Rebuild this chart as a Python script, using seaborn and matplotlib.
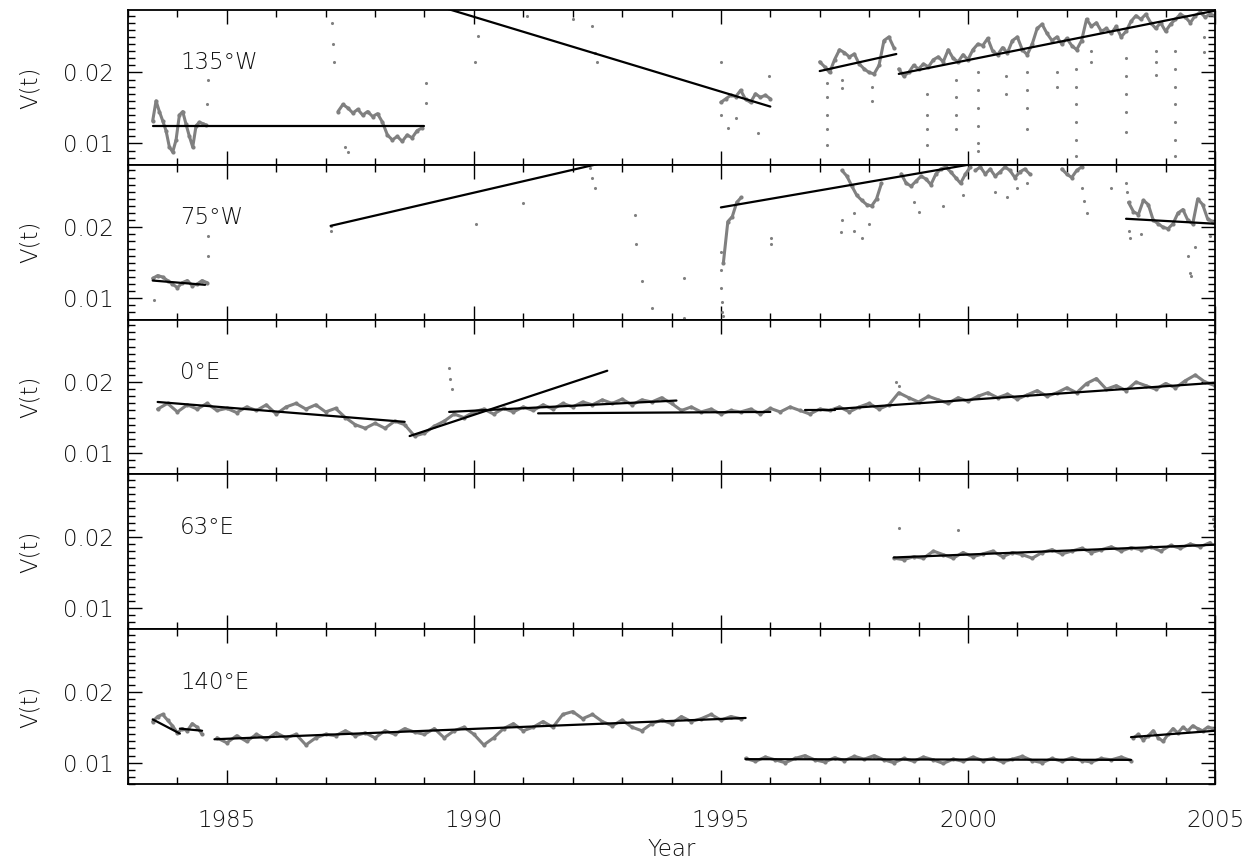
import numpy as np
import pandas as pd
import matplotlib
matplotlib.use("Agg")
import matplotlib.pyplot as plt
import seaborn as sns
from matplotlib.ticker import MultipleLocator, FormatStrFormatter

sns.set_theme(style="white")
plt.rcParams["font.family"] = ["DejaVu Sans"]
plt.rcParams["font.weight"] = "light"

GRAY = "#808080"
XMIN, XMAX = 1983.0, 2005.0
YMIN, YMAX = 0.0070, 0.0288
LABELS = ["135°W", "75°W", "0°E", "63°E", "140°E"]

# ---------------- 135°W ----------------
W135_A = [0.0132, 0.0160, 0.0145, 0.0132, 0.0118, 0.0095, 0.0088, 0.0105, 0.0140,
          0.0145, 0.0127, 0.0110, 0.0095, 0.0125, 0.0130, 0.0128, 0.0126]
W135_B = [0.0145, 0.0155, 0.0150, 0.0143, 0.0148, 0.0140, 0.0145, 0.0138, 0.0142,
          0.0130, 0.0112, 0.0105, 0.0110, 0.0103, 0.0112, 0.0108, 0.0118, 0.0122]
W135_C = [0.0158, 0.0163, 0.0168, 0.0166, 0.0175, 0.0162, 0.0158, 0.0170, 0.0165,
          0.0168, 0.0163]
W135_D = [0.0215, 0.0208, 0.0200, 0.0218, 0.0232, 0.0228, 0.0222, 0.0226, 0.0212,
          0.0205, 0.0200, 0.0198, 0.0210, 0.0245, 0.0250, 0.0235]
W135_E = [0.0205, 0.0195, 0.0200, 0.0210,
          0.0205, 0.0212, 0.0208, 0.0218, 0.0222, 0.0215, 0.0232, 0.0220, 0.0215, 0.0225,
          0.0218, 0.0232, 0.0240, 0.0238, 0.0248, 0.0230, 0.0225, 0.0235, 0.0228, 0.0245,
          0.0250, 0.0232, 0.0225, 0.0240, 0.0262, 0.0268, 0.0255, 0.0245, 0.0250, 0.0240,
          0.0248, 0.0238, 0.0232, 0.0245, 0.0275, 0.0265, 0.0270, 0.0258, 0.0262, 0.0255,
          0.0265, 0.0250, 0.0258, 0.0272, 0.0280, 0.0275, 0.0282, 0.0270, 0.0262, 0.0270,
          0.0258, 0.0268, 0.0275, 0.0282, 0.0278, 0.0270, 0.0280, 0.0285, 0.0278, 0.0282,
          0.0280]
W135_SEGS = [(1983.50, 0.0675, W135_A), (1987.25, 0.1, W135_B), (1995.0, 0.1, W135_C),
             (1997.0, 0.1, W135_D), (1998.6, 0.1, W135_E)]
W135_OUT_T = [1984.60, 1984.62, 1987.12, 1987.14, 1987.16, 1987.40, 1987.45, 1989.03, 1989.03,
              1990.03, 1990.08, 1991.07, 1992.00, 1992.40, 1992.45, 1992.50, 1995.00, 1995.00,
              1995.15, 1995.30, 1995.75, 1995.98,
              1997.15, 1997.15, 1997.15, 1997.15, 1997.15, 1997.46, 1997.46, 1998.05, 1998.05,
              1999.17, 1999.17, 1999.17, 1999.17, 1999.76, 1999.76, 1999.76, 1999.76,
              2000.20, 2000.20, 2000.20, 2000.20, 2000.20, 2000.20, 2000.78, 2000.78,
              2001.19, 2001.19, 2001.19, 2001.19, 2001.81, 2001.81,
              2002.19, 2002.19, 2002.19, 2002.19, 2002.19, 2002.19, 2002.50, 2002.50,
              2003.20, 2003.20, 2003.20, 2003.20, 2003.20, 2003.80, 2003.80, 2003.80,
              2004.19, 2004.19, 2004.19, 2004.19, 2004.19, 2004.19, 2004.19, 2004.78, 2004.78]
W135_OUT_V = [0.0155, 0.0190, 0.0270, 0.0240, 0.0215, 0.0095, 0.0088, 0.0185, 0.0157,
              0.0215, 0.0251, 0.0279, 0.0276, 0.0265, 0.0228, 0.0215, 0.0215, 0.0140,
              0.0122, 0.0136, 0.0115, 0.0195,
              0.0185, 0.0165, 0.0140, 0.0120, 0.0098, 0.0190, 0.0178, 0.0180, 0.0160,
              0.0170, 0.0140, 0.0120, 0.0098, 0.0190, 0.0165, 0.0140, 0.0120,
              0.0200, 0.0175, 0.0150, 0.0125, 0.0100, 0.0089, 0.0195, 0.0170,
              0.0200, 0.0175, 0.0150, 0.0120, 0.0200, 0.0180,
              0.0205, 0.0180, 0.0155, 0.0130, 0.0105, 0.0082, 0.0230, 0.0215,
              0.0220, 0.0195, 0.0170, 0.0145, 0.0116, 0.0230, 0.0215, 0.0197,
              0.0230, 0.0205, 0.0180, 0.0155, 0.0130, 0.0105, 0.0082, 0.0250, 0.0229]
W135_FITS = [(1983.5, 0.0125, 1989.0, 0.0125), (1989.45, 0.0290, 1996.0, 0.0152),
             (1997.0, 0.0202, 1998.55, 0.0226), (1998.6, 0.0198, 2005.0, 0.0287)]

# ---------------- 75°W ----------------
W75_A = [0.0128, 0.0132, 0.0130, 0.0125, 0.0120, 0.0115, 0.0122, 0.0125, 0.0118, 0.0120,
         0.0125, 0.0122]
W75_B = [0.0150, 0.0208, 0.0215, 0.0235, 0.0242]
W75_C = [0.0280, 0.0272, 0.0258, 0.0245, 0.0238, 0.0232, 0.0230, 0.0240, 0.0262]
W75_D = [0.0275, 0.0262, 0.0258, 0.0265, 0.0272, 0.0268, 0.0260, 0.0275, 0.0282, 0.0285,
         0.0278, 0.0270, 0.0262, 0.0275, 0.0285]
W75_E = [0.0280, 0.0285, 0.0275, 0.0282, 0.0272, 0.0278, 0.0285, 0.0280, 0.0270, 0.0278,
         0.0282, 0.0275]
W75_F = [0.0282, 0.0275, 0.0270, 0.0280, 0.0285]
W75_G = [0.0235, 0.0222, 0.0218, 0.0238, 0.0232, 0.0210, 0.0205, 0.0200, 0.0198, 0.0205,
         0.0220, 0.0225, 0.0210, 0.0205, 0.0240, 0.0232, 0.0212, 0.0208]
W75_SEGS = [(1983.5, 0.1, W75_A), (1995.05, 0.09, W75_B), (1997.45, 0.1, W75_C),
            (1998.65, 0.1, W75_D), (2000.15, 0.1, W75_E), (2001.9, 0.1, W75_F),
            (2003.25, 0.1, W75_G)]
W75_OUT_T = [1983.52, 1984.62, 1984.62, 1987.10, 1987.10, 1990.05, 1991.00, 1992.35, 1992.40,
             1992.45, 1993.26, 1993.28, 1993.40, 1993.60, 1994.25, 1994.25,
             1995.00, 1995.00, 1995.01, 1995.02, 1995.03, 1995.05, 1996.01, 1996.01,
             1997.43, 1997.45, 1997.70, 1997.70, 1997.85, 1998.00, 1998.90, 1999.00, 1999.50,
             1999.90, 2000.55, 2000.80, 2001.00, 2001.20, 2002.30, 2002.35, 2002.40, 2002.90,
             2003.20, 2003.22, 2003.25, 2003.28, 2003.50, 2004.45, 2004.50, 2004.52, 2004.60,
             2004.90]
W75_OUT_V = [0.0098, 0.0188, 0.0160, 0.0202, 0.0195, 0.0204, 0.0234, 0.0284, 0.0270,
             0.0255, 0.0218, 0.0176, 0.0124, 0.0087, 0.0128, 0.0072,
             0.0165, 0.0140, 0.0115, 0.0095, 0.0080, 0.0075, 0.0185, 0.0176,
             0.0194, 0.0210, 0.0220, 0.0195, 0.0185, 0.0205, 0.0235, 0.0222, 0.0230,
             0.0245, 0.0250, 0.0243, 0.0255, 0.0262, 0.0255, 0.0237, 0.0220, 0.0255,
             0.0262, 0.0250, 0.0195, 0.0185, 0.0190, 0.0160, 0.0136, 0.0132, 0.0172,
             0.0188]
W75_FITS = [(1983.5, 0.0125, 1984.56, 0.0119), (1987.1, 0.0202, 1992.5, 0.0289),
            (1995.0, 0.0228, 2000.0, 0.0288), (2003.2, 0.0212, 2005.0, 0.0205)]

# ---------------- 0°E ----------------
E0_A = [0.0162, 0.0170,
        0.0158, 0.0168, 0.0162, 0.0170, 0.0160,
        0.0163, 0.0157, 0.0165, 0.0160, 0.0168,
        0.0155, 0.0165, 0.0170, 0.0162, 0.0168,
        0.0158, 0.0163, 0.0150, 0.0140, 0.0135,
        0.0142, 0.0135, 0.0145, 0.0140, 0.0124,
        0.0128, 0.0138, 0.0145, 0.0155, 0.0150,
        0.0158, 0.0162, 0.0155, 0.0163, 0.0158,
        0.0165, 0.0160, 0.0168, 0.0162, 0.0170,
        0.0165, 0.0172, 0.0168, 0.0175, 0.0170,
        0.0176, 0.0168, 0.0175, 0.0172, 0.0178,
        0.0170, 0.0160, 0.0165, 0.0158, 0.0162,
        0.0155, 0.0160, 0.0158, 0.0162, 0.0155,
        0.0163, 0.0158, 0.0165, 0.0160, 0.0155,
        0.0162, 0.0160, 0.0165, 0.0158, 0.0165,
        0.0170, 0.0162, 0.0168, 0.0185, 0.0178,
        0.0172, 0.0180, 0.0175, 0.0170, 0.0178,
        0.0173, 0.0180, 0.0185, 0.0178, 0.0183,
        0.0176, 0.0182, 0.0188, 0.0180, 0.0185,
        0.0192, 0.0185, 0.0198, 0.0205, 0.0190,
        0.0195, 0.0188, 0.0200, 0.0195, 0.0190,
        0.0198, 0.0192, 0.0202, 0.0210, 0.0200,
        0.0195]
E0_SEGS = [(1983.6, 0.2, E0_A)]
E0_OUT_T = [1989.50, 1989.52, 1989.55, 1998.55, 1998.60]
E0_OUT_V = [0.0220, 0.0205, 0.0190, 0.0200, 0.0195]
E0_FITS = [(1983.6, 0.0172, 1988.6, 0.0144), (1988.7, 0.0124, 1992.7, 0.0216),
           (1989.5, 0.0158, 1994.1, 0.0174), (1991.3, 0.0156, 1996.0, 0.0158),
           (1996.7, 0.0161, 1997.3, 0.0161), (1997.3, 0.0162, 2005.0, 0.0199)]

# ---------------- 63°E ----------------
E63_A = [0.0170, 0.0168, 0.0172, 0.0170, 0.0180, 0.0175, 0.0170, 0.0178, 0.0172, 0.0176,
         0.0180, 0.0172, 0.0178, 0.0175, 0.0170, 0.0178, 0.0182, 0.0176, 0.0180, 0.0184,
         0.0178, 0.0182, 0.0186, 0.0180, 0.0185, 0.0182, 0.0186, 0.0180, 0.0188, 0.0184,
         0.0190, 0.0186, 0.0192]
E63_SEGS = [(1998.5, 0.2, E63_A)]
E63_OUT_T = [1998.60, 1999.80, 2004.95, 2004.97]
E63_OUT_V = [0.0213, 0.0210, 0.0225, 0.0215]
E63_FITS = [(1998.5, 0.0171, 2005.0, 0.0189)]

# ---------------- 140°E ----------------
E140_A = [0.0158, 0.0165, 0.0168, 0.0160, 0.0152, 0.0142, 0.0148, 0.0145, 0.0155, 0.0150,
          0.0140]
E140_B = [0.0135, 0.0128, 0.0138, 0.0130, 0.0140, 0.0133, 0.0142, 0.0135, 0.0140, 0.0125,
          0.0135, 0.0140, 0.0138, 0.0145, 0.0138, 0.0142, 0.0135, 0.0145, 0.0140, 0.0148,
          0.0143, 0.0140, 0.0148, 0.0135, 0.0145, 0.0150, 0.0140, 0.0125, 0.0135, 0.0148,
          0.0155, 0.0145, 0.0150, 0.0158, 0.0150, 0.0168, 0.0172, 0.0162, 0.0168, 0.0158,
          0.0152, 0.0160, 0.0150, 0.0145, 0.0155, 0.0160, 0.0155, 0.0165, 0.0158, 0.0162,
          0.0168, 0.0160, 0.0165, 0.0162]
E140_C = [0.0106, 0.0102, 0.0108, 0.0104, 0.0100, 0.0106, 0.0110, 0.0104, 0.0101, 0.0107,
          0.0103, 0.0109, 0.0105, 0.0110, 0.0104, 0.0100, 0.0106, 0.0102, 0.0108, 0.0104,
          0.0099, 0.0105, 0.0102, 0.0108, 0.0103, 0.0106, 0.0101, 0.0105, 0.0109, 0.0103,
          0.0100, 0.0106, 0.0102, 0.0107, 0.0103, 0.0101, 0.0106, 0.0104, 0.0108, 0.0103]
E140_D = [0.0135, 0.0140, 0.0132, 0.0138, 0.0145, 0.0135, 0.0130, 0.0140, 0.0148, 0.0142,
          0.0150, 0.0145, 0.0152, 0.0148, 0.0145, 0.0150, 0.0148]
E140_SEGS = [(1983.5, 0.1, E140_A), (1984.8, 0.2, E140_B), (1995.5, 0.2, E140_C),
             (2003.35, 0.1, E140_D)]
E140_OUT_T = []
E140_OUT_V = []
E140_FITS = [(1983.5, 0.0161, 1984.05, 0.0141), (1984.05, 0.0148, 1984.5, 0.0145),
             (1984.75, 0.0133, 1995.5, 0.0163), (1995.5, 0.0105, 2003.3, 0.0104),
             (2003.3, 0.0136, 2005.0, 0.0145)]

PANELS = [(W135_SEGS, W135_OUT_T, W135_OUT_V, W135_FITS),
          (W75_SEGS, W75_OUT_T, W75_OUT_V, W75_FITS),
          (E0_SEGS, E0_OUT_T, E0_OUT_V, E0_FITS),
          (E63_SEGS, E63_OUT_T, E63_OUT_V, E63_FITS),
          (E140_SEGS, E140_OUT_T, E140_OUT_V, E140_FITS)]


def band_frame(segs):
    rows = []
    for k, (t0, dt, vals) in enumerate(segs):
        for i, v in enumerate(vals):
            rows.append((t0 + dt * i, v, k))
    return pd.DataFrame(rows, columns=["t", "v", "seg"])


def fit_frame(fits):
    rows = []
    for k, (t0, v0, t1, v1) in enumerate(fits):
        rows.append((t0, v0, k))
        rows.append((t1, v1, k))
    return pd.DataFrame(rows, columns=["t", "v", "seg"])


FS = 16.5
TXT = "#111111"
fig, axes = plt.subplots(5, 1, figsize=(12.6, 8.64), dpi=100, sharex=True)
fig.subplots_adjust(left=128 / 1260, right=1215 / 1260, top=1 - 10 / 864,
                    bottom=1 - 784 / 864, hspace=0)

for ax, label, (segs, ot, ov, fits) in zip(axes, LABELS, PANELS):
    bdf = band_frame(segs)
    sns.lineplot(data=bdf, x="t", y="v", units="seg", estimator=None, sort=False,
                 color=GRAY, lw=2.2, ax=ax, legend=False)
    sns.scatterplot(data=bdf, x="t", y="v", color=GRAY, s=9, linewidth=0, ax=ax,
                    legend=False)
    if len(ot):
        sns.scatterplot(x=ot, y=ov, color=GRAY, s=5, linewidth=0, ax=ax, legend=False)
    fdf = fit_frame(fits)
    sns.lineplot(data=fdf, x="t", y="v", units="seg", estimator=None, sort=False,
                 color="black", lw=1.6, ax=ax, legend=False)

    ax.set_xlim(XMIN, XMAX)
    ax.set_ylim(YMIN, YMAX)
    ax.xaxis.set_major_locator(MultipleLocator(5))
    ax.xaxis.set_minor_locator(MultipleLocator(1))
    ax.yaxis.set_major_locator(MultipleLocator(0.01))
    ax.yaxis.set_minor_locator(MultipleLocator(0.001))
    ax.yaxis.set_major_formatter(FormatStrFormatter("%.2f"))
    ax.tick_params(which="both", direction="in", top=True, right=True, bottom=True,
                   left=True, color="black", width=1.0, labelsize=FS, labelcolor=TXT)
    ax.tick_params(which="major", length=10, pad=10)
    ax.tick_params(which="minor", length=5)
    for sp in ax.spines.values():
        sp.set_color("black")
        sp.set_linewidth(1.3)
    ax.set_xlabel("")
    ax.set_ylabel("V(t)", fontsize=FS, color=TXT, fontweight="light")
    ax.yaxis.set_label_coords(-0.079, 0.5)
    ax.text(0.048, 0.658, label, transform=ax.transAxes, fontsize=FS, va="center",
            ha="left", color=TXT, fontweight="light")
    ax.grid(False)

axes[-1].tick_params(axis="x", which="major", pad=18)
axes[-1].set_xlabel("Year", fontsize=FS, color=TXT, labelpad=4, fontweight="light")

fig.savefig("out.png", dpi=100, facecolor="white")
